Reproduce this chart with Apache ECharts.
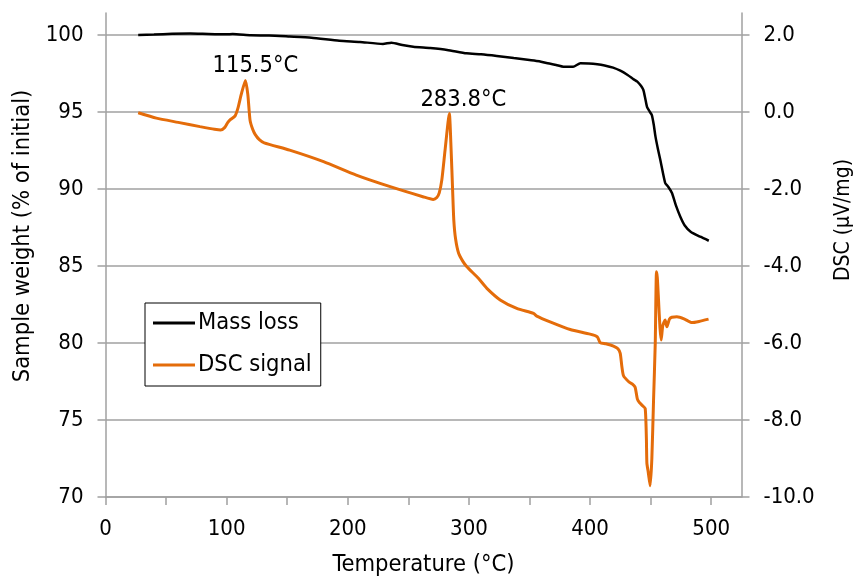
<!DOCTYPE html>
<html>
<head>
<meta charset="utf-8">
<script src="https://cdn.jsdelivr.net/npm/echarts@6/dist/echarts.min.js"></script>
<style>
  html, body { margin: 0; padding: 0; background: #fff; }
  #chart { width: 857px; height: 578px; }
</style>
</head>
<body>
<div id="chart"></div>
<script>
// Thermogravimetric mass loss and DSC signal versus temperature
const massLoss = [
  [27, 100.0], [40, 100.03], [55, 100.08], [70, 100.1], [85, 100.07], [100, 100.05],
  [105, 100.06], [120, 99.98], [135, 99.97], [152, 99.9], [170, 99.82], [193, 99.63],
  [210, 99.55], [229, 99.42], [236, 99.5], [245, 99.35], [254, 99.24], [268, 99.15],
  [282, 99.03], [298, 98.81], [310, 98.75], [323, 98.64], [337, 98.5], [350, 98.38],
  [358, 98.3], [365, 98.16], [372, 98.05], [378, 97.94], [386, 97.94], [392, 98.16],
  [399, 98.15], [406, 98.1], [412, 98.02], [419, 97.88], [425, 97.68], [431, 97.4],
  [436, 97.12], [439, 96.97], [442, 96.7], [444, 96.43], [445.5, 95.9], [447, 95.34],
  [449, 95.05], [451, 94.8], [452.5, 94.2], [454, 93.4], [456, 92.6], [458, 91.88],
  [462, 90.39], [464.5, 90.15], [467.6, 89.74], [471, 88.9], [474.5, 88.2], [478, 87.65],
  [483, 87.23], [491, 86.9], [498, 86.64]
];

const dscSignal = [
  [27, -0.02], [42, -0.16], [60, -0.27], [78, -0.38], [90, -0.45], [95, -0.47],
  [98.5, -0.40], [101, -0.27], [103, -0.2], [107, -0.10], [109.5, 0.12], [112, 0.45],
  [115.5, 0.82], [117.5, 0.45], [119.3, -0.21], [121.5, -0.45], [123.5, -0.58],
  [127, -0.72], [131, -0.80], [152, -0.99], [180, -1.29], [207, -1.64], [235, -1.94],
  [262, -2.2], [270.5, -2.27], [273.5, -2.22], [275.5, -2.1], [277.6, -1.77],
  [280.3, -0.99], [283.8, -0.04], [285.3, -0.99], [286.5, -2.0], [287.5, -2.8],
  [289, -3.3], [291.5, -3.67], [295, -3.88], [298.3, -4.02], [307.8, -4.32],
  [314.8, -4.58], [325.8, -4.88], [339.5, -5.10], [353.3, -5.23], [356, -5.30],
  [367, -5.45], [383.6, -5.65], [400, -5.77], [406, -5.84], [408.3, -5.99], [413, -6.02],
  [419.3, -6.08], [423, -6.15], [424.9, -6.27], [426.2, -6.6], [427.6, -6.85],
  [431.7, -7.0], [435, -7.07], [437.2, -7.15], [439, -7.45], [440.8, -7.55], [443, -7.62],
  [445.5, -7.70], [446.5, -8.5], [446.9, -9.12], [448, -9.35], [449.6, -9.71], [451, -9.0],
  [452.4, -7.48], [453.8, -6.01], [454.8, -4.15], [455.5, -4.3], [456.5, -4.88],
  [457.7, -5.6], [458.7, -5.92], [460, -5.55], [462, -5.40], [463.4, -5.58], [465.5, -5.38],
  [467.5, -5.33], [471.7, -5.32], [478, -5.38], [484, -5.47], [490, -5.44], [497.8, -5.38]
];

// Annotated DSC peak temperatures
const peakTemps = [115.5, 283.8];
const peakLabelOffsets = [[10, 0], [14, 1]];

const xTicks = [0, 50, 100, 150, 200, 250, 300, 350, 400, 450, 500];
const xLabels = [0, 100, 200, 300, 400, 500];
const weightTicks = [70, 75, 80, 85, 90, 95, 100];
const dscTicks = [-10, -8, -6, -4, -2, 0, 2];

const FONT = "'DejaVu Sans Condensed', 'DejaVu Sans', sans-serif";
const TICK_SIZE = 22;
const TEXT_SIZE = 23.5;
const GRID_GRAY = '#a0a0a0';
const ORANGE = '#e46c0a';

// Peak markers placed at the DSC value recorded at each annotated temperature
const peakMarks = peakTemps.map((t, k) => {
  const v = dscSignal.find(p => p[0] === t)[1];
  return {
    coord: [t, v],
    label: {
      show: true,
      position: 'top',
      distance: 3,
      offset: peakLabelOffsets[k],
      formatter: t.toFixed(1) + '°C',
      color: '#000',
      fontFamily: FONT,
      fontSize: TEXT_SIZE
    }
  };
});

const chart = echarts.init(document.getElementById('chart'), null, { renderer: 'canvas' });

const axisLineStyle = { color: GRID_GRAY, width: 1.5 };

chart.setOption({
  animation: false,
  backgroundColor: '#fff',
  textStyle: { fontFamily: FONT, color: '#000' },
  grid: { left: 105.5, right: 115.5, top: 13, bottom: 81, containLabel: false, outerBoundsMode: 'none' },
  legend: {
    left: 145,
    top: 303,
    orient: 'vertical',
    backgroundColor: '#fff',
    borderColor: '#000',
    borderWidth: 1,
    borderRadius: 0,
    padding: [8, 9, 9, 8],
    itemGap: 18,
    itemWidth: 42,
    itemHeight: 3,
    icon: 'rect',
    textStyle: { fontFamily: FONT, fontSize: TEXT_SIZE, color: '#000', padding: [0, 0, 0, -2] },
    data: ['Mass loss', 'DSC signal']
  },
  xAxis: {
    type: 'value',
    min: 0,
    max: 525,
    interval: 50,
    name: 'Temperature (°C)',
    nameLocation: 'middle',
    nameGap: 56,
    nameTextStyle: { fontFamily: FONT, fontSize: TEXT_SIZE, color: '#000' },
    axisLine: { show: true, onZero: false, lineStyle: axisLineStyle },
    axisTick: { show: true, inside: false, length: 8, lineStyle: axisLineStyle, customValues: xTicks },
    axisLabel: { fontFamily: FONT, fontSize: TICK_SIZE, color: '#000', margin: 21, customValues: xLabels },
    splitLine: { show: false }
  },
  yAxis: [
    {
      type: 'value',
      position: 'left',
      min: 70,
      max: 100 + 22 / 15.4,
      interval: 5,
      name: 'Sample weight (% of initial)',
      nameLocation: 'middle',
      nameRotate: 90,
      nameGap: 68,
      nameTextStyle: { fontFamily: FONT, fontSize: TEXT_SIZE, color: '#000', padding: [0, 0, 0, 38] },
      axisLine: { show: true, onZero: false, lineStyle: axisLineStyle },
      axisTick: { show: true, inside: false, length: 8, lineStyle: axisLineStyle, customValues: weightTicks },
      axisLabel: { fontFamily: FONT, fontSize: TICK_SIZE, color: '#000', margin: 22, customValues: weightTicks },
      splitLine: { show: true, lineStyle: { color: GRID_GRAY, width: 1.5 } }
    },
    {
      type: 'value',
      position: 'right',
      min: -10,
      max: 2 + 22 / 38.5,
      interval: 2,
      name: 'DSC (µV/mg)',
      nameLocation: 'middle',
      nameRotate: 90,
      nameGap: 92,
      nameTextStyle: { fontFamily: FONT, fontSize: 21, color: '#000', padding: [0, 0, 0, 70] },
      axisLine: { show: true, onZero: false, lineStyle: axisLineStyle },
      axisTick: { show: true, inside: false, length: 8, lineStyle: axisLineStyle, customValues: dscTicks },
      axisLabel: {
        fontFamily: FONT, fontSize: TICK_SIZE, color: '#000', margin: 22,
        customValues: dscTicks,
        formatter: v => v.toFixed(1)
      },
      splitLine: { show: false }
    }
  ],
  series: [
    {
      name: 'Mass loss',
      type: 'line',
      yAxisIndex: 0,
      data: massLoss,
      showSymbol: false,
      symbol: 'none',
      smooth: 0.2,
      color: '#000',
      lineStyle: { color: '#000', width: 2.5 },
      z: 3
    },
    {
      name: 'DSC signal',
      type: 'line',
      yAxisIndex: 1,
      data: dscSignal,
      showSymbol: false,
      symbol: 'none',
      smooth: 0.2,
      color: ORANGE,
      lineStyle: { color: ORANGE, width: 3 },
      markPoint: {
        symbol: 'circle',
        symbolSize: 0,
        silent: true,
        data: peakMarks
      },
      z: 2
    }
  ]
});
</script>
</body>
</html>
